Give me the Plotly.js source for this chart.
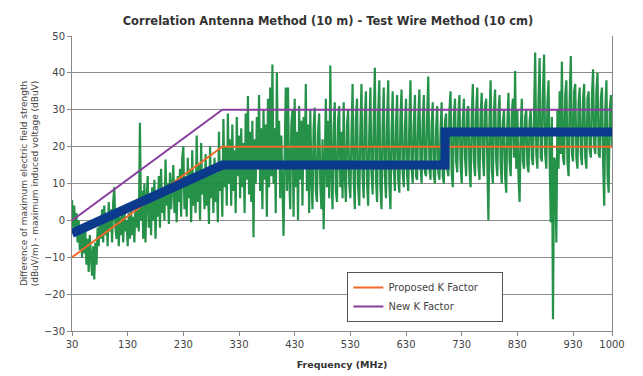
<!DOCTYPE html>
<html>
<head>
<meta charset="utf-8">
<script src="https://cdn.plot.ly/plotly-3.0.1.min.js"></script>
<style>html,body{margin:0;padding:0;background:#fff;}#chart{width:643px;height:376px;}</style>
</head>
<body>
<div id="chart"></div>
<script>
// Measured difference (green), sampled every 2 MHz starting at 30 MHz
var measStartMHz = 30;
var measStepMHz = 2;
var measured = [
  5.5, -2, 4, -4, 2, -6, 0, -8, -2, -10, -1, -9, -3, -12, -5, -14, -4, -11, -15, -7,
  -16, -6, -12, -2, -7, 1, -5, 3, -6, 4, -4, 2, -7, 5, -3, 3, -6, 5, 9, -2,
  -5, 3, -7, 1, -4, 2, -6, 3, -3, 0, -7, 2, -5, 3, -4, 1, -6, 4, -2, 3,
  -3, 26.5, 0, 8, -5, 10, -6, 6, 12, -2, 7, -4, 9, 0, 11, -5, 6, 1, 12, -2,
  14, 2, 9, 0, 16.5, 4, 10, -1, 13, 3, 8, 15, 2, 11, -0.5, 12, 5, 14, 1, 17,
  20, 3, 12, 1, 17, 6, 14, -0.5, 19, 4, 11, 2, 23, 5, 15, 0, 21, 7, 13, 3,
  18, 4, 12, -1, 20, 6, 15, 2, 17, 5, 13, -0.5, 24, 8, 16, 1, 27.5, 9, 20, 4,
  29, 10, 22, 4, 26, 8, 19, 2, 28, 12, 23, 6, 25, 9, 21, 2, 29, 11, 33.7, 7,
  24, 5, 27, -4.6, 22, 10, 28, 15, 34, 8, 25, 3, 30, 11, 26, 1, 33, 9, 36, 12,
  42.3, 10, 25, 2, 40, 14, 27, 6, 23, 9, -4.2, 18, 36, 8, 36, 12, 3, 26, 30, 1,
  33, 9, 24, 0, 31, 11, 27, 4, 28, 14, 37, 8, 26, 2, 30, 12, 3, 25, 30.6, 8,
  5, 24, 29, 10, 3, 22, -2.4, 15, 33, 9, 27, 6, 42, 13, 3, 25, 32, 8, 5, 27,
  31, 9, 24, 6, 32, 12, 5, 26, 30, 10, 6, 23, 37, 11, 3, 28, 33, 9, 4, 25,
  37, 12, 6, 28, 35, 10, 4, 24, 36, 13, 7, 27, 41.4, 11, 5, 29, 38, 9, 3, 26,
  36, 12, 6, 27, 38, 10, 3, 24, 35, 14, 8, 26, 34, 11, 7.5, 28, 35.5, 13, 9, 25,
  33, 12, 8, 27, 38, 14, 10, 26, 34, 12, 11, 28, 35.5, 15, 10, 27, 34, 13, 12, 29,
  39, 14, 11, 26, 32, 12, 10, 25, 31, 13, 11, 24, 32, 12, 10, 27, 29, 14, 12, 30,
  35, 13, 9, 28, 33, 16, 13, 29, 34, 15, 10, 27, 33, 17, 12, 30, 31, 14, 9, 28,
  37, 16, 12, 30, 36, 15, 11, 29, 34.6, 17, 12, 31, 33, 16, 0, 28, 38, 14, 10, 30,
  35.5, 16, 12, 29, 34, 15, 10, 27, 30, 12, 7.5, 26, 34.6, 16, 12, 29, 33, 17, 40.5, 14,
  30, 12, 5, 25, 33, 16, 14, 28, 30, 15, 13, 27, 30, 17, 15, 29, 45.5, 18, 14, 33,
  44, 17, 16, 35, 45, 18, 14, 32, 38, 16, -0.6, 28, -26.8, 17, 16, -6, 30, 14, 35, 18,
  43, 17, 15, 34, 38, 16, 12, 33, 44.6, 18, 16, 35, 37, 17, 14, 32, 36, 18, 15, 33,
  37, 17, 14, 33, 35, 19, 17, 34, 41, 20, 18, 35, 40, 18, 17, 33, 36, 16, 4, 30,
  38, 12, 7.5, 30, 34, 20
];

// Limit lines (MHz, dB)
var kFreq = [30, 300, 1000];
var proposedK = [-10, 20, 20];
var newK = [0, 30, 30];

// Blue reference curve
var blueFreq = [30, 300, 700, 700, 1000];
var blueVal = [-3.5, 15, 15, 24, 24];

var xTicks = [30, 130, 230, 330, 430, 530, 630, 730, 830, 930, 1000];

var font = 'DejaVu Sans, Verdana, sans-serif';

var traces = [
  {
    type: 'scatter', mode: 'lines',
    x0: measStartMHz, dx: measStepMHz, y: measured,
    line: {color: '#1a8b3f', width: 2.2},
    opacity: 0.95,
    showlegend: false, hoverinfo: 'skip'
  },
  {
    type: 'scatter', mode: 'lines',
    x: kFreq, y: proposedK, name: 'Proposed K Factor\u00a0\u00a0\u00a0\u00a0\u00a0\u00a0',
    line: {color: '#f26a2a', width: 2}
  },
  {
    type: 'scatter', mode: 'lines',
    x: kFreq, y: newK, name: 'New K Factor',
    line: {color: '#8a3f9e', width: 2}
  },
  {
    type: 'scatter', mode: 'lines',
    x: blueFreq, y: blueVal,
    line: {color: '#0b3a8c', width: 9},
    showlegend: false
  }
];

var layout = {
  width: 643, height: 376,
  margin: {l: 72, r: 31, t: 36, b: 45},
  paper_bgcolor: '#ffffff', plot_bgcolor: '#ffffff',
  font: {family: font, size: 9, color: '#444'},
  title: {
    text: '<b>Correlation Antenna Method (10 m) - Test Wire Method (10 cm)</b>',
    font: {family: font, size: 11.5, color: '#333'},
    x: 0.51, xref: 'container', y: 0.955, yref: 'container', xanchor: 'center'
  },
  xaxis: {
    range: [30, 1000],
    tickvals: xTicks, ticktext: xTicks.map(String),
    ticks: 'outside', ticklen: 4, tickcolor: '#888',
    showgrid: false, zeroline: false,
    showline: true, linecolor: '#888', linewidth: 1,
    tickfont: {size: 10, color: '#444'},
    title: {text: '<b>Frequency (MHz)</b>', font: {size: 9.5, color: '#333'}, standoff: 12}
  },
  yaxis: {
    range: [-30, 50], dtick: 10,
    ticks: 'outside', ticklen: 4, tickcolor: '#888',
    showgrid: true, gridcolor: '#8c8c8c', gridwidth: 1,
    zeroline: false,
    showline: true, linecolor: '#888', linewidth: 1, mirror: true,
    tickfont: {size: 10, color: '#444'},
    title: {text: 'Difference of maximum electric field strength<br>(dBuV/m) - maximum induced voltage (dBuV)', font: {size: 9, color: '#444'}, standoff: 3}
  },
  legend: {
    x: 0.51, y: 0.2, xanchor: 'left', yanchor: 'top',
    bgcolor: '#ffffff', bordercolor: '#555', borderwidth: 1,
    font: {size: 10, color: '#444'},
    itemwidth: 30,
    tracegroupgap: 0
  },
  showlegend: true
};

Plotly.newPlot('chart', traces, layout, {displayModeBar: false, staticPlot: true});
</script>
</body>
</html>
